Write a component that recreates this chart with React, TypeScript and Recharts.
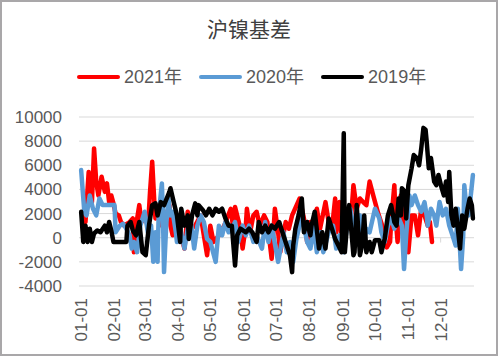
import { LineChart, Line, XAxis, YAxis, CartesianGrid, ReferenceLine } from "recharts";

const FONT = "'Liberation Sans', 'Noto Sans CJK SC', sans-serif";
const TEXT = "#595959";

// month starts as day-of-year, and their labels
const monthStarts = [0, 31, 59, 90, 120, 151, 181, 212, 243, 273, 304, 334];
const monthLabels = ["01-01", "02-01", "03-01", "04-01", "05-01", "06-01", "07-01", "08-01", "09-01", "10-01", "11-01", "12-01"];
const yTicks = [-4000, -2000, 0, 2000, 4000, 6000, 8000, 10000];

// 2021
const days2021 = [1, 4, 7, 10, 12, 14, 16, 19, 22, 24, 26, 28, 30, 32, 35, 37, 40, 45, 48, 49, 51, 54, 56, 60, 62, 64, 66, 68, 69, 72, 75, 79, 82, 83, 85, 88, 96, 99, 102, 106, 111, 114, 117, 120, 123, 128, 133, 139, 141, 143, 148, 150, 153, 154, 157, 160, 163, 166, 170, 173, 177, 180, 183, 185, 190, 193, 196, 203, 207, 210, 213, 216, 219, 222, 227, 230, 233, 236, 237, 240, 242, 245, 250, 253, 256, 259, 262, 265, 268, 272, 276, 279, 281, 284, 287, 288, 291, 292, 294, 297, 299, 301, 304, 307, 310, 313, 316, 319, 322, 324, 326];
const basis2021 = [1850, 1300, 5450, 2950, 7400, 4650, 3500, 5050, 3800, 4500, 2950, 3500, 2850, 2000, 1850, 1300, 1000, 1300, 1600, -1200, 1000, 2700, 1300, 1850, 750, 3800, 6300, 2950, 1600, 2700, 1000, 1850, 2700, 1000, 200, 1850, -900, 2150, 750, 1000, 1850, 200, -1450, 1000, -350, 200, 1000, 2400, 1000, 2550, 750, -900, 1000, 2400, 450, 1850, 2150, 1000, 1850, 1300, -1750, 2400, 450, -1200, 1300, 750, 1850, 3250, 1600, -350, 1300, 1000, 2400, 750, 2950, 1300, 750, 3250, 450, 2950, -350, 1850, 750, 4350, 2400, 3250, 2950, 2700, 4650, 3300, 2000, 1200, 600, -800, -350, 1300, 4350, 1850, -350, 3500, 750, 1850, -1200, 1850, 1850, 200, 2400, 1850, 1000, 1300, -350];

// 2020
const days2020 = [0, 3, 5, 8, 11, 14, 17, 20, 31, 32, 36, 39, 42, 45, 47, 49, 52, 55, 59, 62, 65, 67, 69, 71, 72, 75, 76, 77, 79, 81, 83, 85, 88, 89, 92, 96, 99, 102, 105, 108, 111, 114, 117, 120, 125, 128, 131, 134, 137, 140, 143, 146, 150, 153, 156, 160, 163, 168, 171, 174, 177, 183, 188, 191, 194, 197, 200, 205, 210, 213, 216, 219, 222, 225, 230, 234, 237, 240, 244, 247, 250, 254, 259, 262, 265, 268, 273, 277, 279, 282, 285, 288, 291, 294, 298, 300, 302, 305, 307, 310, 313, 316, 319, 321, 322, 325, 328, 330, 333, 336, 339, 342, 345, 348, 350, 353, 355, 356, 358, 360, 362, 364];
const basis2020 = [5600, 2100, 1850, 3500, 2400, 1850, 3250, 2700, 2700, 450, 1000, 1150, 750, 200, -900, -350, -1200, 1000, 2150, 450, 1000, -2000, 450, -2000, 1850, 4500, 1850, -2850, 1000, 3250, 1850, 2150, 450, -350, 750, -900, 750, 1300, -900, 1000, 1850, 1300, -100, -350, -2000, 1000, 200, 1300, 450, 750, 1300, -350, 1000, 200, 1000, -350, 200, -900, 1300, -350, 1000, -2000, 450, -1200, -350, -2000, -100, 1850, -350, -900, 1000, -1200, 450, -1200, 450, 1000, -900, 200, -1200, 1000, 2400, 450, 1850, -650, 750, 450, 2400, 1600, 450, -350, 1000, 1600, 750, 1850, 1000, -2600, 200, 3500, 2700, 3500, 2700, 2150, 2950, 1850, 1000, 2400, 1850, 1000, 2950, 1850, 2400, 1000, 200, -650, 2400, -2600, 200, 4350, 2400, 1850, 3500, 5200];

// 2019
const days2019 = [0, 2, 4, 6, 8, 10, 12, 15, 18, 22, 24, 26, 28, 30, 42, 43, 46, 48, 51, 54, 57, 60, 63, 66, 69, 71, 74, 77, 82, 83, 86, 89, 92, 93, 96, 99, 100, 103, 106, 108, 109, 113, 116, 119, 122, 125, 128, 131, 134, 137, 140, 143, 145, 148, 153, 156, 159, 163, 165, 168, 171, 174, 177, 180, 184, 187, 194, 196, 197, 199, 202, 205, 207, 210, 213, 214, 217, 221, 224, 227, 230, 233, 236, 239, 242, 244, 245, 247, 249, 253, 254, 256, 259, 261, 263, 265, 268, 270, 273, 277, 279, 282, 285, 288, 291, 293, 295, 297, 298, 301, 302, 304, 307, 309, 312, 314, 316, 318, 320, 321, 323, 325, 328, 330, 332, 335, 337, 339, 341, 342, 344, 346, 348, 352, 354, 356, 359, 361, 363, 364];
const basis2019 = [2150, -350, 1000, -350, 750, -350, 350, 600, 450, 1000, 450, 1300, 600, -350, -350, 1000, 1300, 600, 200, 1300, -1200, -1450, 1000, 2700, 2850, 1850, 2950, 2700, 3800, 4100, 2950, 1850, -350, 2400, 1000, 1850, -100, 1850, 2850, 1850, 2700, 2300, 1850, 2400, 1850, 2400, 2150, 2400, 1600, 1000, 1000, -2300, 200, 750, 450, 750, 450, -350, 1300, 450, 1000, 450, 1000, 750, 1300, 450, -1450, -2850, -650, 750, 1850, 3250, 450, 1300, 200, 1000, 2150, -900, 450, -900, 1600, 750, -100, -650, -1200, 8650, -1200, 1000, 2700, -1450, -1200, 2700, -1450, -650, 1850, -1200, -350, -1200, -200, -200, -1200, -100, 1850, 2700, 1300, 1000, 3250, 1850, 4100, 3800, 1600, 4350, 5750, 6850, 6600, 6000, 7400, 9100, 8950, 8000, 5750, 6600, 4650, 4350, 5200, 4100, 3500, 4650, 2950, 5450, 1850, 1000, 2400, -900, 1850, 750, 2400, 3250, 2700, 1600];

const toPoints = (days: number[], vals: number[]) => days.map((d, i) => ({ day: d, value: vals[i] }));

const series = [
  { name: "2021年", color: "#FF0000", data: toPoints(days2021, basis2021) },
  { name: "2020年", color: "#5B9BD5", data: toPoints(days2020, basis2020) },
  { name: "2019年", color: "#000000", data: toPoints(days2019, basis2019) },
];

function MonthTick(props: any) {
  const { x, y, payload } = props;
  const label = monthLabels[monthStarts.indexOf(payload.value)];
  return (
    <text
      x={x}
      y={y}
      dy="0.35em"
      textAnchor="end"
      transform={`rotate(-90 ${x} ${y})`}
      fill={TEXT}
      fontSize={17}
      fontFamily={FONT}
    >
      {label}
    </text>
  );
}

export default function App() {
  return (
    <div style={{ position: "absolute", left: 0, top: 0, width: 498, height: 356, background: "#fff", fontFamily: FONT }}>
      <div style={{ position: "absolute", top: 16, width: "100%", textAlign: "center", fontSize: 21, color: "#404040", lineHeight: "28px" }}>
        沪镍基差
      </div>
      <div style={{ position: "absolute", top: 65, left: 77, display: "flex", alignItems: "center", height: 24 }}>
        {series.map((s) => (
          <div key={s.name} style={{ display: "flex", alignItems: "center", marginRight: 17 }}>
            <div style={{ width: 43, height: 4, borderRadius: 2, background: s.color, marginRight: 4 }} />
            <span style={{ fontSize: 18, color: TEXT, lineHeight: "24px" }}>{s.name}</span>
          </div>
        ))}
      </div>
      <LineChart width={498} height={356} margin={{ top: 117, right: 24, left: 0, bottom: 0 }} style={{ position: "absolute", left: 0, top: 0 }}>
        <CartesianGrid vertical={false} stroke="#d9d9d9" />
        <XAxis
          type="number"
          dataKey="day"
          domain={[-2, 365]}
          ticks={monthStarts}
          interval={0}
          axisLine={false}
          tickLine={false}
          tickMargin={6}
          height={70}
          tick={<MonthTick />}
        />
        <YAxis
          domain={[-4000, 10000]}
          ticks={yTicks}
          interval={0}
          axisLine={false}
          tickLine={false}
          tickMargin={11}
          width={79}
          tick={{ fill: TEXT, fontSize: 17, fontFamily: FONT }}
        />
        {monthStarts.map((d) => (
          <ReferenceLine
            key={d}
            segment={[{ x: d, y: 0 }, { x: d, y: -400 }]}
            stroke="#d9d9d9"
          />
        ))}
        {series.map((s) => (
          <Line
            key={s.name}
            data={s.data}
            dataKey="value"
            type="linear"
            stroke={s.color}
            strokeWidth={4.5}
            strokeLinejoin="round"
            strokeLinecap="round"
            dot={false}
            isAnimationActive={false}
          />
        ))}
      </LineChart>
      <div style={{ position: "absolute", inset: 0, border: "2px solid #a9a7a9", pointerEvents: "none" }} />
    </div>
  );
}
